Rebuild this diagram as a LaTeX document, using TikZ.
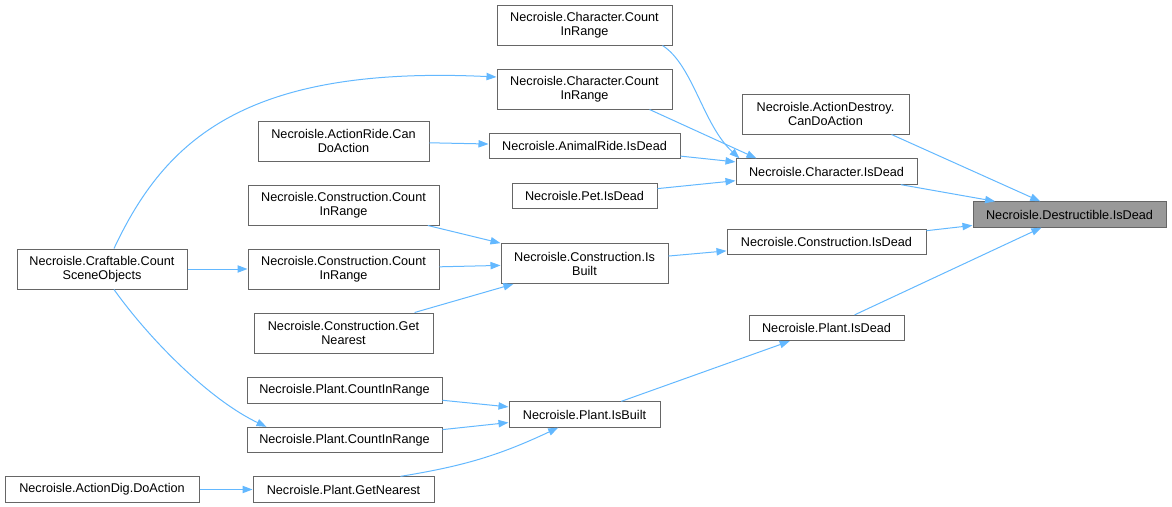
\documentclass[tikz,border=0pt]{standalone}
\usepackage{fontspec}
\setmainfont{Liberation Sans}
\usetikzlibrary{arrows.meta,calc}
\definecolor{edgeblue}{HTML}{63B8FF}
\definecolor{boxgray}{HTML}{666666}
\definecolor{hlgray}{HTML}{999999}

\begin{document}
\begin{tikzpicture}[x=0.75pt, y=-0.75pt,
    fn/.style={rectangle, draw=boxgray, line width=0.75pt, fill=white, inner sep=0pt,
      align=center, font=\fontsize{9.5}{10.5}\selectfont, minimum height=19pt},
    fntwo/.style={fn, minimum height=30pt}]
      \useasboundingbox (0,0) rectangle (1172,507);
      \draw
        (584.5,25) node[fntwo, minimum width=131.25pt] (0){Necroisle.Character.Count\\InRange}
        (584.5,89) node[fntwo, minimum width=131.25pt] (1){Necroisle.Character.Count\\InRange}
        (825.5,114) node[fntwo, minimum width=125.25pt] (2){Necroisle.ActionDestroy.\\CanDoAction}
        (343.5,141) node[fntwo, minimum width=128.25pt] (3){Necroisle.ActionRide.Can\\DoAction}
        (584.5,146) node[fn, minimum width=143.25pt] (4){Necroisle.AnimalRide.IsDead}
        (826.5,171.5) node[fn, minimum width=135.75pt] (5){Necroisle.Character.IsDead}
        (584.5,196) node[fn, minimum width=108.75pt] (6){Necroisle.Pet.IsDead}
        (1069.5,214.5) node[fn, fill=hlgray, minimum width=144.75pt] (7){Necroisle.Destructible.IsDead}
        (343.5,205) node[fntwo, minimum width=143.25pt] (8){Necroisle.Construction.Count\\InRange}
        (584.5,263.5) node[fntwo, minimum width=125.25pt] (9){Necroisle.Construction.Is\\Built}
        (826.5,242) node[fn, minimum width=149.25pt] (10){Necroisle.Construction.IsDead}
        (102,269) node[fntwo, minimum width=127.5pt] (11){Necroisle.Craftable.Count\\SceneObjects}
        (343.5,269) node[fntwo, minimum width=143.25pt] (12){Necroisle.Construction.Count\\InRange}
        (343.5,333) node[fntwo, minimum width=134.25pt] (13){Necroisle.Construction.Get\\Nearest}
        (826.5,328) node[fn, minimum width=116.25pt] (14){Necroisle.Plant.IsDead}
        (344.5,390.5) node[fn, minimum width=146.25pt] (15){Necroisle.Plant.CountInRange}
        (344.5,440) node[fn, minimum width=146.25pt] (16){Necroisle.Plant.CountInRange}
        (584.5,414.5) node[fn, minimum width=113.25pt] (17){Necroisle.Plant.IsBuilt}
        (102,489.5) node[fn, minimum width=145.5pt] (18){Necroisle.ActionDig.DoAction}
        (343.5,489.5) node[fn, minimum width=135.75pt] (19){Necroisle.Plant.GetNearest};
      \begin{scope}[-{Triangle[length=7.5pt,width=5.5pt]}, edgeblue, line width=0.75pt]
        \draw ($(0.south west)+(166,0)$) .. controls (693,65) and (703,125) .. ($(5.north west)+(4,0)$);
        \draw ($(1.south west)+(153,0)$) to ($(5.north west)+(21,0)$);
        \draw (3) to (4);
        \draw (4) to (5);
        \draw (6) to (5);
        \draw ($(2.south west)+(150,0)$) to (7);
        \draw (5) to (7);
        \draw (10) to (7);
        \draw (14) to (7);
        \draw ($(11.north)+(12,0)$) .. controls (165,140) and (245,65) .. ($(1.west)+(0,-12)$);
        \draw (11) to (12);
        \draw ($(11.south)+(12,0)$) .. controls (150,340) and (210,400) .. ($(16.north west)+(20,0)$);
        \draw (8) to (9);
        \draw (12) to (9);
        \draw (13) to (9);
        \draw (9) to (10);
        \draw (17) to (14);
        \draw (15) to (17);
        \draw (16) to (17);
        \draw ($(19.north west)+(148,0)$) to[bend right=8] (17);
        \draw (18) to (19);
      \end{scope}
    \end{tikzpicture}
\end{document}
